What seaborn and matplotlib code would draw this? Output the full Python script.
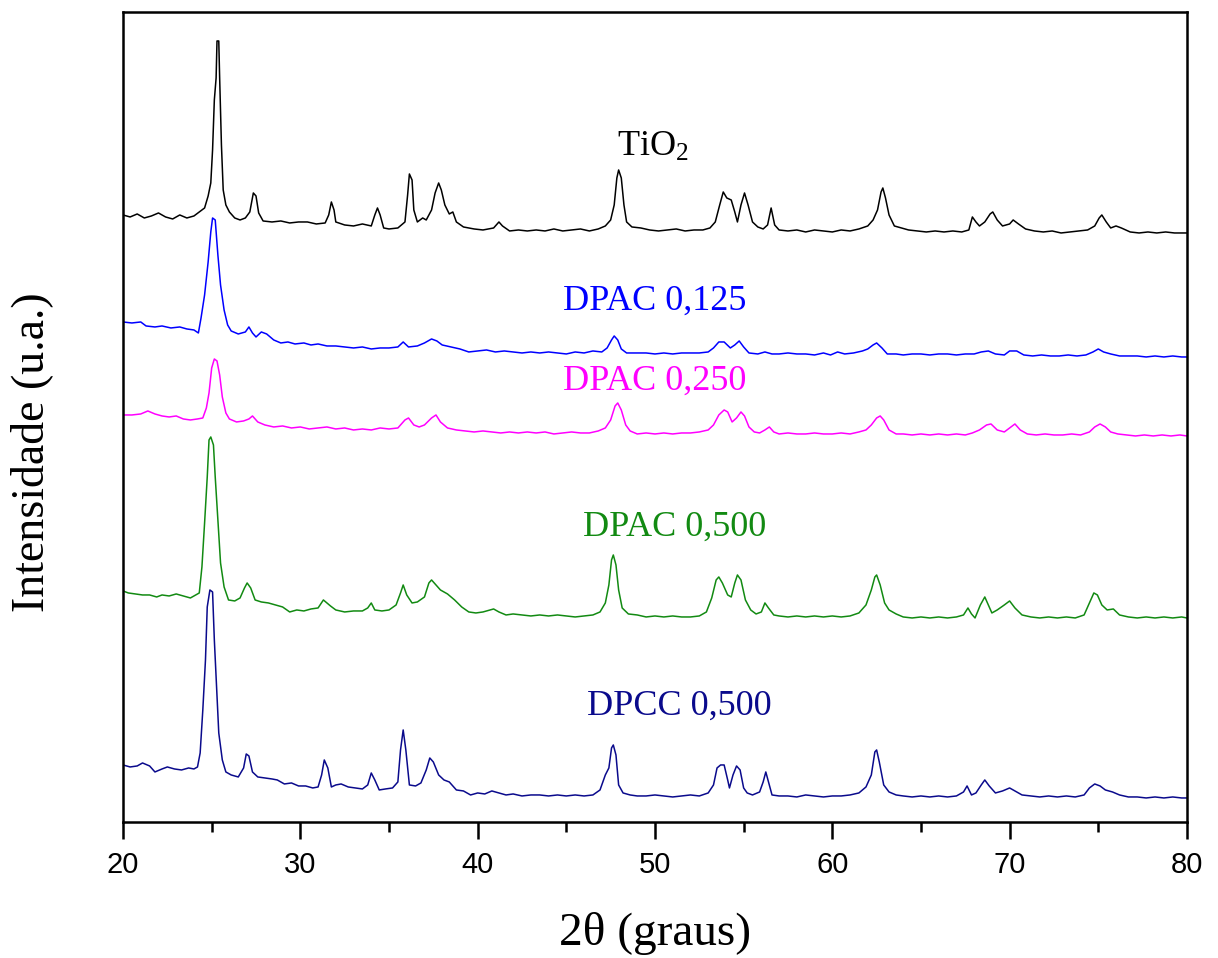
import matplotlib
matplotlib.use("Agg")
import matplotlib.pyplot as plt
from matplotlib.ticker import MultipleLocator
import seaborn as sns
import pandas as pd

# ---- data: (2theta, intensity in arbitrary units, traces already stacked) ----
tio2 = [(20.0,607),(20.4,605),(20.8,608),(21.2,604),(21.6,606),(22.0,609),(22.4,605),(22.8,603),(23.2,607),(23.6,604),
        (24.0,606),(24.3,610),(24.6,614),(24.8,626),(24.95,639),(25.05,672),(25.15,722),(25.25,744),(25.3,781),(25.4,781),
        (25.45,744),(25.55,677),(25.65,632),(25.8,617),(26.0,610),(26.3,604),(26.6,602),(26.9,604),(27.15,610),(27.35,629),
        (27.5,626),(27.65,609),(27.9,601),(28.4,600),(28.9,601),(29.4,599),(29.9,600),(30.4,600),(30.9,598),(31.4,599),
        (31.6,607),(31.75,620),(31.9,612),(32.0,600),(32.5,597),(33.0,596),(33.5,598),(34.0,596),(34.2,607),(34.35,614),
        (34.5,607),(34.7,594),(35.0,593),(35.5,594),(35.9,600),(36.05,627),(36.15,648),(36.3,642),(36.4,612),(36.6,600),
        (36.9,604),(37.1,602),(37.4,612),(37.6,629),(37.8,639),(37.95,632),(38.15,617),(38.4,608),(38.6,610),(38.8,600),
        (39.2,595),(39.8,593),(40.3,592),(40.9,594),(41.2,600),(41.4,596),(41.8,591),(42.3,592),(42.8,591),(43.3,592),
        (43.8,591),(44.3,593),(44.8,591),(45.3,592),(45.8,593),(46.3,591),(46.8,593),(47.2,596),(47.5,602),(47.7,617),
        (47.85,644),(47.95,652),(48.1,644),(48.25,617),(48.4,600),(48.7,595),(49.2,594),(49.7,592),(50.2,591),(50.7,592),
        (51.2,593),(51.7,591),(52.2,592),(52.7,592),(53.1,594),(53.4,600),(53.65,617),(53.85,630),(54.05,624),(54.3,622),
        (54.5,610),(54.65,600),(54.85,617),(55.05,629),(55.25,617),(55.5,600),(55.8,595),(56.1,593),(56.35,597),(56.55,614),
        (56.75,597),(57.0,592),(57.5,591),(58.0,592),(58.5,590),(59.0,592),(59.5,591),(60.0,590),(60.5,592),(61.0,591),
        (61.5,593),(62.0,596),(62.3,602),(62.55,612),(62.75,630),(62.85,634),(63.0,624),(63.2,607),(63.5,596),(63.9,594),
        (64.3,592),(64.8,591),(65.3,590),(65.8,591),(66.3,590),(66.8,591),(67.3,590),(67.7,592),(67.9,605),(68.1,600),
        (68.3,596),(68.6,600),(68.9,608),(69.05,610),(69.3,602),(69.6,596),(70.0,598),(70.2,602),(70.5,598),(70.9,593),
        (71.4,591),(71.9,590),(72.4,591),(72.9,589),(73.4,590),(73.9,591),(74.4,592),(74.8,596),(75.05,604),(75.2,607),
        (75.45,600),(75.7,594),(76.0,596),(76.3,594),(76.8,590),(77.3,589),(77.8,590),(78.3,589),(78.8,590),(79.3,589),
        (80.0,589)]

dpac_0125 = [(20.0,500),(20.5,499),(21.0,500),(21.3,496),(21.8,495),(22.2,496),(22.7,494),(23.2,495),(23.6,493),(24.0,492),
        (24.25,489),(24.4,504),(24.6,527),(24.8,560),(24.95,590),(25.05,604),(25.2,602),(25.35,567),(25.5,537),(25.7,512),
        (25.9,497),(26.1,491),(26.5,488),(26.9,490),(27.1,495),(27.3,489),(27.5,485),(27.8,490),(28.1,488),(28.5,482),
        (28.9,479),(29.3,480),(29.7,478),(30.2,479),(30.6,477),(31.0,478),(31.5,476),(32.0,476),(32.5,475),(33.0,474),
        (33.5,475),(34.0,473),(34.5,474),(35.0,474),(35.5,475),(35.8,480),(36.1,475),(36.6,476),(37.0,479),(37.4,483),
        (37.7,481),(38.0,477),(38.5,475),(39.0,473),(39.5,470),(40.0,471),(40.5,472),(41.0,470),(41.5,471),(42.0,470),
        (42.5,469),(43.0,470),(43.5,469),(44.0,470),(44.5,469),(45.0,468),(45.5,470),(46.0,469),(46.5,471),(47.0,470),
        (47.3,474),(47.55,482),(47.7,486),(47.9,482),(48.1,473),(48.4,469),(49.0,469),(49.5,469),(50.0,468),(50.5,469),
        (51.0,468),(51.5,469),(52.0,469),(52.5,469),(53.0,470),(53.3,474),(53.6,480),(53.9,480),(54.25,474),(54.5,477),
        (54.75,481),(55.0,475),(55.3,469),(55.8,468),(56.2,470),(56.6,468),(57.0,468),(57.5,469),(58.0,468),(58.5,468),
        (59.0,467),(59.5,469),(59.9,467),(60.3,470),(60.7,468),(61.2,469),(61.7,471),(62.0,473),(62.3,477),(62.5,479),
        (62.8,474),(63.1,468),(63.6,468),(64.0,467),(64.5,468),(65.0,468),(65.5,467),(66.0,468),(66.5,468),(67.0,467),
        (67.5,468),(68.0,468),(68.4,470),(68.8,471),(69.2,468),(69.7,467),(70.0,471),(70.4,471),(70.8,467),(71.3,466),
        (71.8,467),(72.3,466),(72.8,466),(73.3,467),(73.8,466),(74.3,467),(74.7,470),(75.0,473),(75.3,470),(75.7,468),
        (76.2,466),(76.7,466),(77.2,466),(77.7,465),(78.2,466),(78.7,465),(79.2,466),(79.7,465),(80.0,465)]

dpac_0250 = [(20.0,407),(20.5,407),(21.0,408),(21.4,411),(21.8,408),(22.2,406),(22.6,405),(23.0,406),(23.4,403),(23.8,402),
        (24.2,403),(24.5,404),(24.7,414),(24.85,429),(25.0,454),(25.15,463),(25.3,461),(25.45,447),(25.6,425),(25.8,409),
        (26.0,403),(26.4,400),(26.8,401),(27.1,403),(27.3,406),(27.6,400),(28.0,397),(28.5,395),(29.0,396),(29.5,394),
        (30.0,395),(30.5,393),(31.0,394),(31.5,395),(32.0,393),(32.5,394),(33.0,392),(33.5,393),(34.0,392),(34.5,394),
        (35.0,393),(35.5,394),(35.9,402),(36.1,404),(36.4,397),(36.7,395),(37.0,397),(37.4,404),(37.65,407),(37.9,400),
        (38.3,394),(38.8,392),(39.3,391),(39.8,390),(40.3,391),(40.8,390),(41.3,389),(41.8,390),(42.3,389),(42.8,390),
        (43.3,389),(43.8,390),(44.3,388),(44.8,389),(45.3,390),(45.8,389),(46.3,389),(46.8,391),(47.2,394),(47.5,402),
        (47.75,416),(47.9,419),(48.1,412),(48.35,397),(48.6,391),(49.0,388),(49.5,389),(50.0,388),(50.5,389),(51.0,388),
        (51.5,389),(52.0,389),(52.5,390),(53.0,392),(53.3,397),(53.6,407),(53.9,412),(54.1,410),(54.35,400),(54.6,404),
        (54.85,410),(55.05,406),(55.3,395),(55.6,390),(55.9,389),(56.2,392),(56.45,395),(56.7,390),(57.0,388),(57.5,389),
        (58.0,388),(58.5,388),(59.0,389),(59.5,388),(60.0,388),(60.5,389),(61.0,388),(61.5,390),(61.9,392),(62.2,397),
        (62.5,404),(62.7,406),(62.9,402),(63.2,392),(63.6,388),(64.0,388),(64.5,387),(65.0,388),(65.5,387),(66.0,388),
        (66.5,387),(67.0,388),(67.5,387),(67.9,389),(68.3,392),(68.7,397),(68.95,398),(69.3,392),(69.7,390),(70.0,394),
        (70.3,398),(70.6,392),(71.0,388),(71.5,387),(72.0,388),(72.5,387),(73.0,387),(73.5,388),(74.0,387),(74.5,390),
        (74.8,395),(75.1,398),(75.4,395),(75.7,390),(76.1,388),(76.6,387),(77.1,386),(77.6,387),(78.1,386),(78.6,387),
        (79.1,386),(79.6,387),(80.0,386)]

dpac_0500 = [(20.0,231),(20.3,229),(20.7,228),(21.1,227),(21.5,227),(21.9,225),(22.2,227),(22.6,226),(23.0,228),(23.4,226),
        (23.8,224),(24.1,227),(24.3,229),(24.45,255),(24.6,299),(24.75,345),(24.85,382),(24.95,385),(25.1,377),(25.2,345),
        (25.35,302),(25.5,259),(25.7,235),(25.95,222),(26.3,221),(26.6,224),(26.85,234),(27.0,239),(27.2,234),(27.45,222),
        (27.8,220),(28.2,219),(28.6,217),(29.0,215),(29.4,210),(29.8,212),(30.2,211),(30.6,213),(31.0,214),(31.3,222),
        (31.5,219),(31.7,216),(32.0,212),(32.5,210),(33.0,211),(33.5,211),(33.8,214),(34.0,219),(34.2,212),(34.6,211),
        (35.0,212),(35.4,217),(35.65,229),(35.8,237),(36.0,227),(36.3,219),(36.6,220),(37.0,225),(37.25,239),(37.4,242),
        (37.6,238),(37.9,232),(38.3,228),(38.7,222),(39.1,215),(39.5,210),(39.9,209),(40.3,210),(40.7,212),(40.9,213),
        (41.2,210),(41.6,207),(42.0,208),(42.5,207),(43.0,206),(43.5,207),(44.0,206),(44.5,207),(45.0,206),(45.5,205),
        (46.0,206),(46.5,207),(46.9,210),(47.2,219),(47.4,237),(47.55,262),(47.65,267),(47.8,257),(47.95,232),(48.15,214),
        (48.5,208),(49.0,207),(49.5,205),(50.0,206),(50.5,205),(51.0,206),(51.5,205),(52.0,205),(52.5,206),(52.9,210),
        (53.2,224),(53.45,242),(53.6,245),(53.8,239),(54.1,227),(54.3,225),(54.5,239),(54.65,247),(54.85,242),(55.1,222),
        (55.4,212),(55.7,208),(56.0,210),(56.2,219),(56.4,214),(56.7,207),(57.0,206),(57.5,205),(58.0,206),(58.5,205),
        (59.0,206),(59.5,205),(60.0,206),(60.5,205),(61.0,206),(61.5,209),(61.9,217),(62.2,232),(62.4,245),(62.5,247),
        (62.7,237),(62.95,219),(63.2,212),(63.6,208),(64.0,205),(64.5,204),(65.0,205),(65.5,204),(66.0,205),(66.5,204),
        (67.0,205),(67.4,207),(67.65,214),(67.85,208),(68.05,204),(68.35,217),(68.6,225),(68.8,217),(69.0,209),(69.3,212),
        (69.7,217),(70.0,221),(70.3,214),(70.7,207),(71.2,205),(71.7,204),(72.2,205),(72.7,204),(73.2,205),(73.7,204),
        (74.2,207),(74.5,219),(74.75,229),(74.95,227),(75.2,217),(75.5,212),(75.85,213),(76.2,207),(76.7,205),(77.2,204),
        (77.7,205),(78.2,204),(78.7,205),(79.2,204),(79.7,205),(80.0,204)]

dpcc_0500 = [(20.0,57),(20.4,55),(20.8,56),(21.1,59),(21.5,56),(21.8,50),(22.2,53),(22.5,55),(22.9,53),(23.3,52),
        (23.7,54),(24.0,53),(24.2,55),(24.35,69),(24.5,112),(24.65,162),(24.75,215),(24.9,232),(25.05,230),(25.15,182),
        (25.3,125),(25.4,89),(25.6,62),(25.8,50),(26.1,47),(26.5,45),(26.8,54),(26.95,68),(27.1,66),(27.3,50),
        (27.6,45),(28.0,44),(28.4,43),(28.7,42),(29.1,38),(29.5,39),(29.9,36),(30.3,36),(30.7,34),(31.0,35),
        (31.2,47),(31.35,62),(31.55,54),(31.75,35),(32.0,37),(32.3,38),(32.7,35),(33.1,34),(33.5,33),(33.8,37),
        (34.0,49),(34.2,42),(34.45,32),(34.8,33),(35.2,34),(35.5,40),(35.65,72),(35.8,92),(35.95,72),(36.15,37),
        (36.5,36),(36.8,39),(37.1,52),(37.3,64),(37.5,60),(37.8,47),(38.1,42),(38.4,40),(38.8,32),(39.2,31),
        (39.6,27),(40.0,29),(40.4,28),(40.8,31),(41.2,29),(41.6,27),(42.0,28),(42.5,26),(43.0,27),(43.5,27),
        (44.0,26),(44.5,27),(45.0,26),(45.5,27),(46.0,26),(46.5,27),(46.9,32),(47.2,47),(47.4,54),(47.55,74),
        (47.65,77),(47.8,67),(47.95,37),(48.2,29),(48.6,27),(49.0,26),(49.5,26),(50.0,27),(50.5,26),(51.0,25),
        (51.5,26),(52.0,27),(52.5,26),(53.0,29),(53.3,37),(53.5,54),(53.7,57),(53.9,57),(54.1,42),(54.2,34),
        (54.4,47),(54.6,56),(54.8,52),(55.0,34),(55.2,29),(55.5,27),(55.9,30),(56.1,40),(56.25,50),(56.4,40),
        (56.6,27),(57.0,26),(57.5,26),(58.0,25),(58.5,27),(59.0,26),(59.5,25),(60.0,26),(60.5,26),(61.0,27),
        (61.5,29),(61.9,35),(62.2,47),(62.4,70),(62.5,72),(62.65,60),(62.9,37),(63.2,30),(63.6,27),(64.0,26),
        (64.5,25),(65.0,26),(65.5,25),(66.0,26),(66.5,25),(67.0,26),(67.4,30),(67.6,36),(67.85,27),(68.1,29),
        (68.4,37),(68.6,42),(68.85,36),(69.2,29),(69.6,31),(70.0,34),(70.3,31),(70.7,27),(71.2,26),(71.7,25),
        (72.2,26),(72.7,25),(73.2,26),(73.7,25),(74.2,27),(74.5,34),(74.8,38),(75.1,36),(75.4,32),(75.8,30),
        (76.2,27),(76.7,25),(77.2,25),(77.7,24),(78.2,25),(78.7,24),(79.2,25),(79.7,24),(80.0,24)]

series_names = ["TiO2", "DPAC 0,125", "DPAC 0,250", "DPAC 0,500", "DPCC 0,500"]
series_data = [tio2, dpac_0125, dpac_0250, dpac_0500, dpcc_0500]
series_colors = ["#000000", "#0000FF", "#FF00FF", "#128A12", "#0A0A8C"]
label_texts = [r"TiO$_{2}$", "DPAC 0,125", "DPAC 0,250", "DPAC 0,500", "DPCC 0,500"]
label_pos = [(49.9, 675), (50.0, 521), (50.0, 441), (51.1, 295), (51.4, 116)]

xticks = [20, 30, 40, 50, 60, 70, 80]

# ---- style ----
sns.set_theme(style="ticks")
plt.rcParams["font.family"] = ["Liberation Serif", "DejaVu Serif"]
plt.rcParams["mathtext.fontset"] = "custom"
plt.rcParams["mathtext.rm"] = "Liberation Serif"
plt.rcParams["mathtext.it"] = "Liberation Serif:italic"
plt.rcParams["text.color"] = "black"
plt.rcParams["axes.labelcolor"] = "black"
plt.rcParams["xtick.color"] = "black"
plt.rcParams["xtick.labelcolor"] = "black"

fig = plt.figure(figsize=(12.18, 9.58), dpi=100)
ax = fig.add_axes([0.101, 0.142, 0.8735, 0.8455])

for name, data, col in zip(series_names, series_data, series_colors):
    df = pd.DataFrame(data, columns=["theta", "intensity"])
    sns.lineplot(data=df, x="theta", y="intensity", color=col, linewidth=1.1,
                 estimator=None, sort=False, ax=ax)

for txt, (lx, ly), col in zip(label_texts, label_pos, series_colors):
    ax.text(lx, ly, txt, color=col, fontsize=26, ha="center", va="center",
            family="Liberation Serif")

ax.set_xlim(20, 80)
ax.set_ylim(0, 810)
ax.set_xticks(xticks)
ax.xaxis.set_minor_locator(MultipleLocator(5))
ax.set_yticks([])
ax.tick_params(axis="x", which="major", direction="out", length=12, width=1.8,
               pad=9, labelsize=21, top=False, color="black", labelcolor="black")
ax.tick_params(axis="x", which="minor", direction="out", length=7, width=1.8,
               top=False, color="black")
for lab in ax.get_xticklabels():
    lab.set_family("Liberation Sans")
for sp in ax.spines.values():
    sp.set_linewidth(1.8)
    sp.set_color("black")

ax.set_xlabel("2θ (graus)", fontsize=34, labelpad=24, family="Liberation Serif", color="black")
ax.set_ylabel("Intensidade (u.a.)", fontsize=33, family="Liberation Serif", color="black")
ax.yaxis.set_label_coords(-0.066, 0.457)

fig.savefig("out.png", dpi=100)
